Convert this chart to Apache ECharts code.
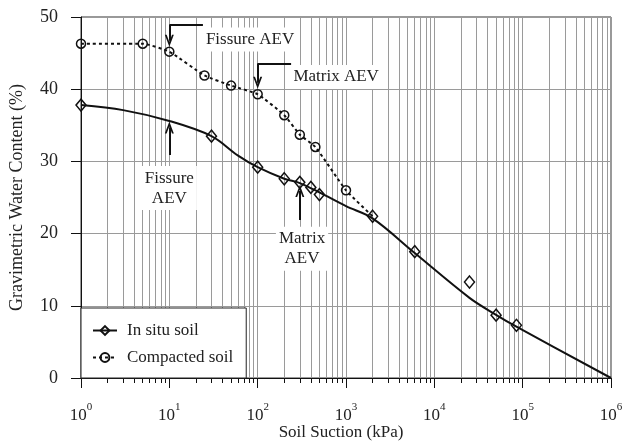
<!DOCTYPE html>
<html>
<head>
    <meta charset="utf-8">
    <script src="https://cdn.jsdelivr.net/npm/echarts@6/dist/echarts.min.js"></script>
</head>
<body style="margin: 0">
    <div id="container" style="width: 623px; height: 444px"></div>
    <script>
        // suction (kPa) / water content (%)
        var inSituX = [1, 30, 100, 200, 300, 400, 500, 2000, 6000, 25000, 50000, 85000];
        var inSituY = [37.8, 33.5, 29.2, 27.6, 27.1, 26.4, 25.4, 22.4, 17.5, 13.3, 8.7, 7.3];
        var compactedX = [1, 5, 10, 25, 50, 100, 200, 300, 450, 1000, 2000];
        var compactedY = [46.3, 46.3, 45.2, 41.9, 40.5, 39.3, 36.4, 33.7, 32.0, 26.0, 22.4];
        // fitted curve for the in situ soil
        var fitX = [1, 3, 10, 30, 60, 100, 200, 300, 500, 1000, 2000, 6000, 25000, 50000, 85000, 1000000];
        var fitY = [37.8, 37.1, 35.6, 33.5, 30.8, 29.2, 27.6, 27.0, 25.7, 23.8, 22.1, 17.3, 11.1, 8.75, 7.1, 0];
        var decades = [1, 10, 100, 1000, 10000, 100000, 1000000];
        var minorTicks = [];
        for (var d = 0; d < 6; d++) {
            for (var k = 2; k <= 9; k++) minorTicks.push(k * Math.pow(10, d));
        }

        var font = 'Liberation Serif';
        var ink = '#111';
        var gridGray = '#9a9a9a';
        var arrowPath = 'path://M5,0 L10,10 L8,10 L5,4 L2,10 L0,10 Z';

        function pairs(xs, ys) {
            return xs.map(function (x, i) { return [x, ys[i]]; });
        }
        var compactedData = pairs(compactedX, compactedY).map(function (p, i) {
            // last point sits under the in situ diamond
            return i === compactedX.length - 1 ? { value: p, symbol: 'none' } : p;
        });

        function seg(a, b, tip) {
            return [{ coord: a, symbol: 'none' }, { coord: b, symbol: tip ? arrowPath : 'none' }];
        }
        function note(text, coord) {
            return {
                coord: coord,
                label: {
                    show: true, formatter: text, position: 'inside',
                    fontFamily: font, fontSize: 17, color: '#222', lineHeight: 20,
                    backgroundColor: '#fff', padding: [2, 3]
                }
            };
        }

        var dom = document.getElementById('container');
        var myChart = echarts.init(dom);
        var option = {
            animation: false,
            grid: {
                left: 81, right: 12, top: 17, bottom: 66, outerBoundsMode: 'none',
                show: true, borderColor: '#333', borderWidth: 1
            },
            legend: {
                orient: 'vertical', left: 81, top: 308,
                backgroundColor: '#fff', borderColor: '#222', borderWidth: 1,
                padding: [14, 13, 12, 11], itemGap: 10, itemWidth: 24, itemHeight: 11,
                textStyle: { fontFamily: font, fontSize: 17, color: '#222', padding: [0, 0, 0, 5] },
                data: ['In situ soil', 'Compacted soil']
            },
            xAxis: [{
                type: 'log', logBase: 10, min: 1, max: 1000000, position: 'bottom',
                name: 'Soil Suction (kPa)', nameLocation: 'middle', nameGap: 46, nameMoveOverlap: false,
                nameTextStyle: { fontFamily: font, fontSize: 17, color: '#222', padding: [0, 10, 0, 0] },
                axisLine: { lineStyle: { color: ink, width: 1 } },
                axisTick: { customValues: decades, length: 10, lineStyle: { color: ink } },
                axisLabel: {
                    customValues: decades, margin: 24,
                    formatter: function (v) { return '{b|10}{s|' + Math.round(Math.log10(v)) + '}'; },
                    rich: {
                        b: { fontFamily: font, fontSize: 17, color: '#222', lineHeight: 22, verticalAlign: 'bottom' },
                        s: { fontFamily: font, fontSize: 11, color: '#222', lineHeight: 11, verticalAlign: 'top' }
                    }
                },
                splitLine: { show: true, lineStyle: { color: gridGray, width: 1 } }
            }, {
                type: 'log', logBase: 10, min: 1, max: 1000000, position: 'bottom',
                axisLine: { show: false },
                axisTick: { customValues: minorTicks, length: 5, lineStyle: { color: ink } },
                axisLabel: { show: false },
                splitLine: { show: true, lineStyle: { color: gridGray, width: 1 } }
            }],
            yAxis: {
                type: 'value', min: 0, max: 50, interval: 10,
                name: 'Gravimetric Water Content (%)', nameLocation: 'middle', nameGap: 55, nameMoveOverlap: false,
                nameTextStyle: { fontFamily: font, fontSize: 18, color: '#222' },
                axisLine: { show: true, lineStyle: { color: ink, width: 1 } },
                axisTick: { show: true, length: 10, lineStyle: { color: ink } },
                axisLabel: { fontFamily: font, fontSize: 18, color: '#222', margin: 23 },
                splitLine: { lineStyle: { color: gridGray, width: 1 } }
            },
            series: [{
                name: 'In situ soil', type: 'line', xAxisIndex: 0,
                data: pairs(fitX, fitY),
                smooth: 0.35, showSymbol: false,
                symbol: 'diamond', symbolSize: 10,
                lineStyle: { color: ink, width: 2 },
                itemStyle: { color: 'rgba(255,255,255,0)', borderColor: ink, borderWidth: 1.5 },
                emphasis: { disabled: true },
                z: 3,
                markLine: {
                    silent: true, animation: false,
                    symbolSize: [9, 12],
                    label: { show: false },
                    lineStyle: { color: ink, width: 2, type: 'solid' },
                    emphasis: { disabled: true },
                    data: [
                        seg([10, 48.9], [24, 48.9]),
                        seg([10, 48.9], [10, 46.7], true),
                        seg([100, 43.55], [239, 43.55]),
                        seg([100, 43.55], [100, 40.9], true),
                        seg([10, 30.9], [10, 34.7], true),
                        seg([300, 21.9], [300, 25.9], true)
                    ]
                },
                markPoint: {
                    silent: true, animation: false,
                    symbol: 'circle', symbolSize: 0,
                    itemStyle: { color: 'rgba(0,0,0,0)' },
                    data: [
                        note('Fissure AEV', [82, 46.9]),
                        note('Matrix AEV', [773, 41.7]),
                        note('Fissure\nAEV', [10, 26.3]),
                        note('Matrix\nAEV', [318, 17.9])
                    ]
                }
            }, {
                name: 'In situ soil', type: 'scatter', xAxisIndex: 0,
                data: pairs(inSituX, inSituY),
                symbol: 'diamond', symbolSize: [10, 12],
                itemStyle: { color: 'rgba(255,255,255,0)', borderColor: ink, borderWidth: 1.5, opacity: 1 },
                emphasis: { disabled: true },
                z: 4
            }, {
                name: 'Compacted soil', type: 'line', xAxisIndex: 0,
                data: compactedData,
                smooth: 0.15,
                symbol: 'circle', symbolSize: 9,
                lineStyle: { color: ink, width: 2, type: [3, 3] },
                itemStyle: { color: 'rgba(255,255,255,0)', borderColor: ink, borderWidth: 1.5 },
                emphasis: { disabled: true },
                z: 4
            }]
        };
        myChart.setOption(option);
    </script>
</body>
</html>
